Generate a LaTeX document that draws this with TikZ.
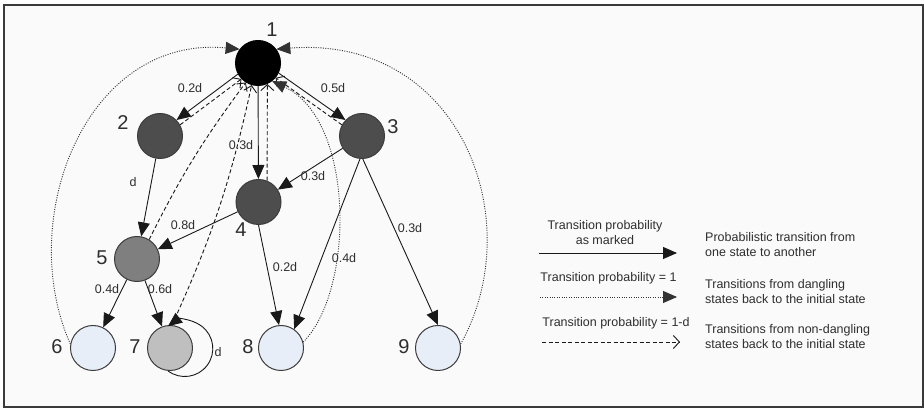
\documentclass[tikz,border=0pt]{standalone}
\usepackage{fontspec}
\setmainfont{Liberation Sans}
\usetikzlibrary{arrows.meta}
\definecolor{framecol}{HTML}{3A3A3A}
\definecolor{bgcol}{HTML}{FAFAFA}
\definecolor{nodeline}{HTML}{3C3C3C}
\definecolor{darkstate}{HTML}{4D4D4D}
\definecolor{midstate}{HTML}{7F7F7F}
\definecolor{greystate}{HTML}{BFBFBF}
\definecolor{palestate}{HTML}{E8EEF8}
\definecolor{txt}{HTML}{2E2E2E}
\begin{document}
\begin{tikzpicture}[x=1pt,y=1pt,
  state/.style={circle, draw=nodeline, line width=1pt, minimum size=45pt, inner sep=0pt},
  num/.style={font=\fontsize{20}{20}\selectfont, text=txt, inner sep=0pt},
  lbl/.style={font=\fontsize{12.5}{15}\selectfont, text=txt, inner sep=0pt},
  prob/.style={-{Triangle[length=14pt,width=12pt]}, line width=0.9pt, draw=black!90},
  back/.style={-{Straight Barb[length=6pt,width=13pt]}, dash pattern=on 4pt off 2.5pt, line width=0.9pt, draw=black!90},
  dang/.style={-{Triangle[length=14pt,width=12pt]}, dash pattern=on 1pt off 1.4pt, line width=0.9pt, draw=black!80},
]
\useasboundingbox (0,0) rectangle (924,409);
% frame
\draw[line width=2pt, draw=framecol, fill=bgcol] (3.5,1.5) rectangle (922.5,404);

% states
\node[state, fill=black, draw=black] (n1) at (258,346) {};
\node[state, fill=darkstate] (n2) at (160,273) {};
\node[state, fill=darkstate] (n3) at (362,273) {};
\node[state, fill=darkstate] (n4) at (258.5,207) {};
\node[state, fill=midstate] (n5) at (137,150) {};
\node[state, fill=palestate] (n6) at (93,61) {};
\node[state, fill=greystate] (n7) at (170,61) {};
\node[state, fill=palestate] (n8) at (281,61) {};
\node[state, fill=palestate] (n9) at (438,61) {};

% state numbers
\node[num] (t1) at (272,379) {1};
\node[num] (t2) at (123,286) {2};
\node[num] (t3) at (393,282) {3};
\node[num] (t4) at (241,179) {4};
\node[num] (t5) at (102,151) {5};
\node[num] (t6) at (57,62) {6};
\node[num] (t7) at (135,62) {7};
\node[num] (t8) at (248,62) {8};
\node[num] (t9) at (404,62) {9};

% probabilistic transitions
\draw[prob] (n1.209) -- (n2.44);
\draw[prob] (n1.-26) -- (n3.136);
\draw[prob] (n1) -- (n4);
\draw[prob] (n2) -- (n5);
\draw[prob] (n3) -- (n4);
\draw[prob] (n4) -- (n5);
\draw[prob] (n5) -- (n6);
\draw[prob] (n5) -- (n7);
\draw[prob] (n4.south) -- (n8.95);
\draw[prob] (n3.-95) -- (n8.55);
\draw[prob] (n3.-88) -- (n9.north);
\draw[prob] (n7.-95) arc[start angle=-126.9, end angle=126.9, radius=28pt];

% transition labels
\node[lbl] (e12) at (190,321) {0.2d};
\node[lbl] (e13) at (333,321) {0.5d};
\node[lbl] (e14) at (241,264) {0.3d};
\node[lbl] (e25) at (133,227) {d};
\node[lbl] (e34) at (313,233) {0.3d};
\node[lbl] (e45) at (183,184) {0.8d};
\node[lbl] (e56) at (107,120) {0.4d};
\node[lbl] (e57) at (160,120) {0.6d};
\node[lbl] (e48) at (285,142) {0.2d};
\node[lbl] (e38) at (344,151) {0.4d};
\node[lbl] (e39) at (410,181) {0.3d};
\node[lbl] (e77) at (218,57) {d};

% returns from non-dangling states
\draw[back] (n2.29) -- (n1.224);
\draw[back] (n3.151) -- (n1.-40);
\draw[back] (n4.68) -- (n1.-66);
\draw[back] (n5.58) to[bend left=5] (n1.238);
\draw[back] (n7.85) to[bend right=6] (n1.254);

% returns from dangling states
\draw[dang] (n6.170) .. controls (15,189) and (85,374) .. (n1.143);
\draw[dang] (n9.10) .. controls (530,189) and (460,374) .. (n1.37);
\draw[dang] (n8.15) .. controls (355,119) and (355,289) .. (n1.-52);

% legend
\node[lbl, align=center] (k1) at (605,176.5) {Transition probability\\as marked};
\coordinate (a1) at (539,156);
\coordinate (b1) at (677,156);
\draw[prob] (a1) -- (b1);
\node[lbl, align=left, anchor=west] (d1) at (705,164.5) {Probabilistic transition from\\one state to another};

\node[lbl] (k2) at (608.5,131) {Transition probability = 1};
\coordinate (a2) at (540,112);
\coordinate (b2) at (677,112);
\draw[dang] (a2) -- (b2);
\node[lbl, align=left, anchor=west] (d2) at (705,117) {Transitions from dangling\\states back to the initial state};

\node[lbl] (k3) at (616,86) {Transition probability = 1-d};
\coordinate (a3) at (542,67);
\coordinate (b3) at (680,67);
\draw[back] (a3) -- (b3);
\node[lbl, align=left, anchor=west] (d3) at (705,72) {Transitions from non-dangling\\states back to the initial state};
\end{tikzpicture}
\end{document}
